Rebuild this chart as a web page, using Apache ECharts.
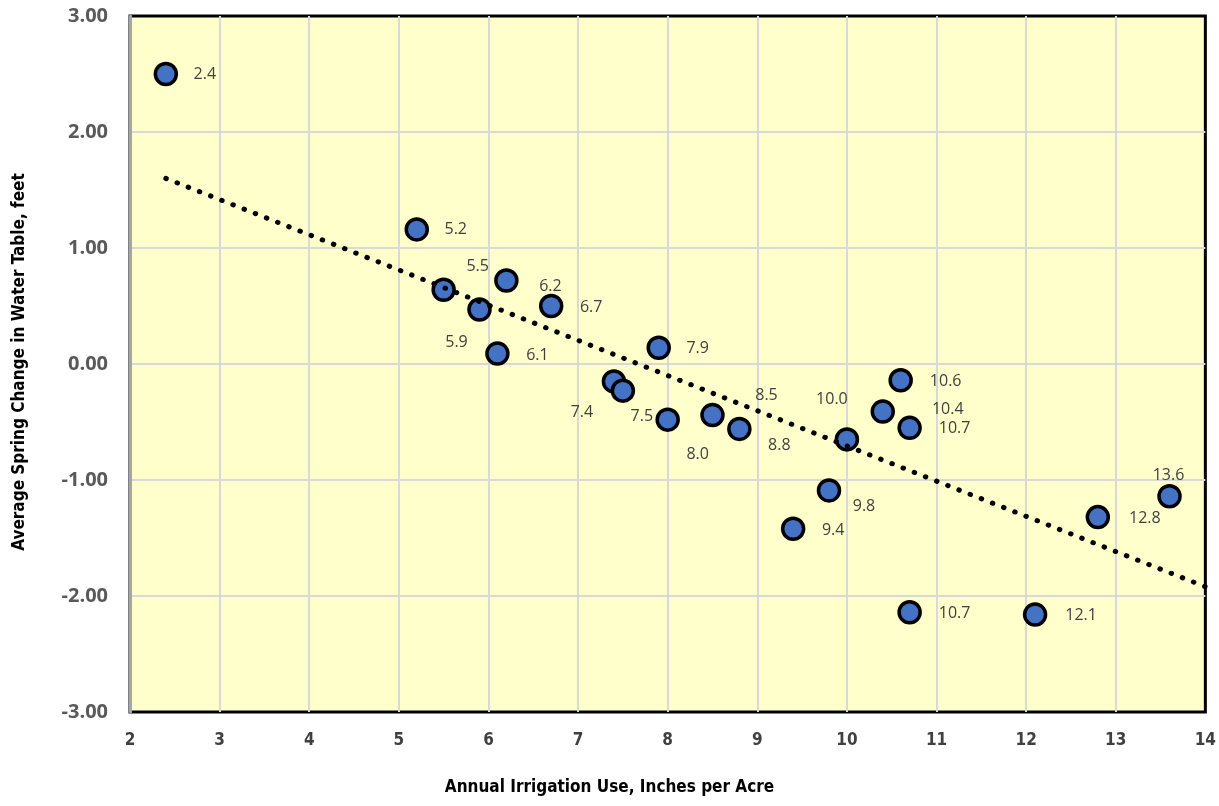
<!DOCTYPE html>
<html><head><meta charset="utf-8">
<script src="https://cdn.jsdelivr.net/npm/echarts@6/dist/echarts.min.js"></script>
<style>html,body{margin:0;padding:0;background:#fff}#c{width:1219px;height:806px}</style>
</head><body><div id="c"></div>
<script>
const xValues = [2.4,5.2,5.5,5.9,6.2,6.7,6.1,7.9,7.4,7.5,8.0,8.5,8.8,10.0,9.8,9.4,10.6,10.4,10.7,10.7,12.1,12.8,13.6];
const yValues = [2.50,1.16,0.64,0.47,0.72,0.50,0.09,0.14,-0.15,-0.23,-0.48,-0.44,-0.56,-0.65,-1.09,-1.42,-0.14,-0.41,-0.55,-2.14,-2.16,-1.32,-1.14];
const trendX = [2.4, 14];
const trendY = [1.60, -1.92];
const xTicks = [2,3,4,5,6,7,8,9,10,11,12,13,14];
const yTicks = [-3,-2,-1,0,1,2,3];
const xTitle = 'Annual Irrigation Use, Inches per Acre';
const yTitle = 'Average Spring Change in Water Table, feet';

// label placement (style config)
const labelOffsets = [[39,0],[39,0],[34,-23],[-23,33],[44,6],[40,1],[40,2],[39,1],[-32,31],[19,26],[30,35],[54,-20],[40,16],[-15,-40],[35,16],[40,2],[45,1],[65,-2],[45,1],[45,1],[46,1],[47,1],[-1,-21]];

const pts = xValues.map((x,i)=>({
  value:[x,yValues[i]],
  label:{offset:labelOffsets[i]}
}));
const trend = trendX.map((x,i)=>[x,trendY[i]]);
const titleFont = 'Liberation Sans Narrow, DejaVu Sans Condensed, sans-serif';

const chart = echarts.init(document.getElementById('c'));
chart.setOption({
  animation:false,
  grid:{left:130,right:12,top:16,bottom:94,show:true,backgroundColor:'#FFFFCC',borderColor:'#000',borderWidth:3},
  graphic:[
    {type:'text',left:'center',x:0,style:{text:xTitle,x:617,y:788,align:'center',verticalAlign:'middle',
      font:'bold 17px '+titleFont,fill:'#000'},position:[0,0]},
    {type:'text',x:20,y:362,rotation:Math.PI/2,style:{text:yTitle,x:0,y:0,align:'center',verticalAlign:'middle',
      font:'bold 17px '+titleFont,fill:'#000'}}
  ],
  xAxis:{type:'value',min:2,max:14,interval:1,
    axisLine:{show:false},axisTick:{show:false},
    axisLabel:{margin:20,fontFamily:titleFont,fontWeight:'bold',fontSize:17,color:'#404040',
      formatter:v=>xTicks.includes(v)?String(v):''},
    splitLine:{show:true,showMinLine:false,showMaxLine:false,lineStyle:{color:'#D9D9D9',width:2}}},
  yAxis:{type:'value',min:-3,max:3,interval:1,
    axisLine:{show:true,onZero:false,lineStyle:{color:'#A6A6A6',width:3}},axisTick:{show:false},
    axisLabel:{margin:22,fontFamily:'Open Sans, Liberation Sans, sans-serif',fontWeight:'bold',fontSize:20,color:'#595959',
      formatter:v=>yTicks.includes(v)?v.toFixed(2):''},
    splitLine:{show:true,showMinLine:false,showMaxLine:false,lineStyle:{color:'#D9D9D9',width:2}}},
  series:[
    {type:'scatter',data:pts,symbol:'circle',symbolSize:21,z:2,
      itemStyle:{color:'#4472C4',borderColor:'#000',borderWidth:3.5,opacity:1},
      label:{show:true,position:'inside',align:'center',verticalAlign:'middle',
        fontFamily:'Open Sans, Liberation Sans, sans-serif',fontSize:16,color:'#404040',
        formatter:p=>p.value[0].toFixed(1)}},
    {type:'line',data:trend,symbol:'none',z:5,silent:true,
      lineStyle:{color:'#000',width:5,type:[0.5,11.5],cap:'round'}}
  ]
});
</script></body></html>
